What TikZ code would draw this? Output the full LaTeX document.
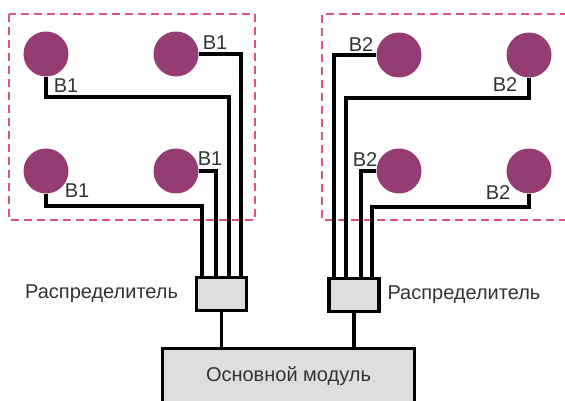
\documentclass[tikz,border=0pt]{standalone}
\usepackage{fontspec}
\setmainfont{Liberation Sans}
\usetikzlibrary{positioning,calc}
\definecolor{sensorpurple}{HTML}{953D73}
\definecolor{framepink}{HTML}{E0508C}
\definecolor{boxgray}{HTML}{DEDEDE}
\definecolor{txtgray}{HTML}{333333}
\begin{document}
\begin{tikzpicture}[x=0.5pt,y=-0.5pt,
  font=\fontsize{10}{12}\selectfont,
  sens/.style={circle,fill=sensorpurple,minimum size=22.5pt,inner sep=0pt},
  zone/.style={draw=framepink,line width=1.1pt,dash pattern=on 4pt off 2.5pt},
  wire/.style={draw,line width=1.6pt},
  box/.style={draw,fill=boxgray,line width=1.6pt,inner sep=0pt},
  lbl/.style={text=txtgray,inner sep=0pt}]
\useasboundingbox (0,0) rectangle (565,400);
% dashed zones
\draw[zone] (9,14) rectangle (255,220);
\draw[zone] (568,14) -- (322,14) -- (322,220) -- (568,220);
% sensors
\node[sens] (sA1) at (46,54) {};
\node[sens] (sA2) at (176,54) {};
\node[sens] (sA3) at (46,171) {};
\node[sens] (sA4) at (176,171) {};
\node[sens] (sB1) at (399,55) {};
\node[sens] (sB2) at (529,55) {};
\node[sens] (sB3) at (399,171) {};
\node[sens] (sB4) at (529,171) {};
% distributors and main module
\node[box,minimum width=25pt,minimum height=16.5pt] (dstA) at (221.5,294) {};
\node[box,minimum width=25pt,minimum height=16.5pt] (dstB) at (354,295) {};
\node[box,minimum width=126pt,minimum height=27.75pt,text=txtgray] (mod) at (288.5,376.25) {Основной модуль};
\node[lbl,left=8.25pt of dstA] (lDstA) {Распределитель};
\node[lbl,right=3.25pt of dstB] (lDstB) {Распределитель};
% wires, zone 1
\draw[wire] (sA1.south) |- (229,97) -- (229,0 |- dstA.north);
\draw[wire] (sA2.east) -| (241,0 |- dstA.north);
\draw[wire] (sA3.south) |- (202,206) -- (202,0 |- dstA.north);
\draw[wire] (sA4.east) -| (216,0 |- dstA.north);
% wires, zone 2
\draw[wire] (sB1.west) -| (334,0 |- dstB.north);
\draw[wire] (sB2.south) |- (346,98) -- (346,0 |- dstB.north);
\draw[wire] (sB3.west) -| (361,0 |- dstB.north);
\draw[wire] (sB4.south) |- (372,207) -- (372,0 |- dstB.north);
% to main module
\draw[wire] (dstA.south) -- (dstA.south |- mod.north);
\draw[wire] (dstB.south) -- (dstB.south |- mod.north);
% labels
\node[lbl] (lA1) at (66,86) {B1};
\node[lbl] (lA2) at (215,43) {B1};
\node[lbl] (lA3) at (77,191) {B1};
\node[lbl] (lA4) at (210,159) {B1};
\node[lbl] (lB1) at (361,45) {B2};
\node[lbl] (lB2) at (505,85) {B2};
\node[lbl] (lB3) at (365,160) {B2};
\node[lbl] (lB4) at (498,193) {B2};
\end{tikzpicture}
\end{document}
